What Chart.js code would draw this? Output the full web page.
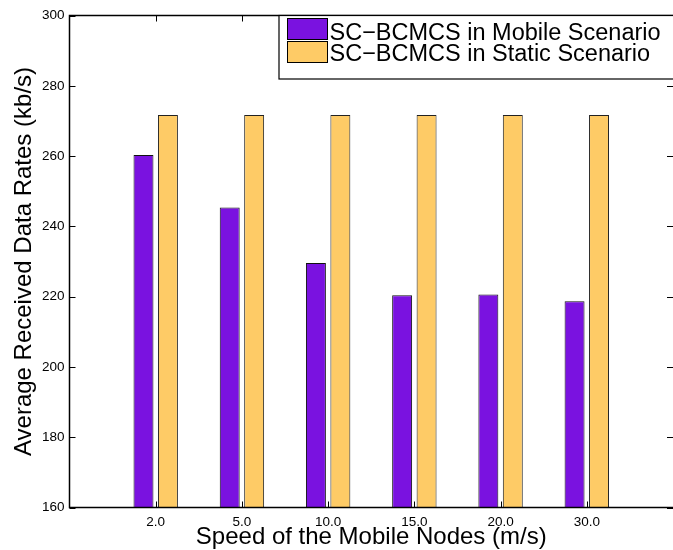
<!DOCTYPE html>
<html>
<head>
<meta charset="utf-8">
<script src="https://cdn.jsdelivr.net/npm/chart.js@4/dist/chart.umd.min.js"></script>
<style>
  html, body { margin: 0; padding: 0; background: #fff; overflow: hidden; }
  #wrap { width: 680px; height: 550px; }
</style>
</head>
<body>
<div id="wrap"><canvas id="c" width="680" height="550"></canvas></div>
<script>
// Node speeds (m/s) on the x axis
const speeds = ['2.0', '5.0', '10.0', '15.0', '20.0', '30.0'];
// Average received data rates (kb/s)
const mobileRates = [260.3, 245.4, 229.6, 220.4, 220.6, 218.7];
const staticRates = [271.7, 271.7, 271.7, 271.7, 271.7, 271.7];
// Y axis tick values
const yTicks = [160, 180, 200, 220, 240, 260, 280, 300];

const seriesNames = ['SC\u2212BCMCS in Mobile Scenario', 'SC\u2212BCMCS in Static Scenario'];
const purple = '#7a12e0';
const orange = '#fecb66';
const FONT = '"Liberation Sans", Arial, Helvetica, sans-serif';

// empty slots on both ends give the axis its half-open margins
const labels = [''].concat(speeds, ['']);
const pad = arr => [null].concat(arr, [null]);

// axes frame, inward ticks on all four sides, and the boxed legend
const framePlugin = {
  id: 'frame',
  afterDraw(chart) {
    const { ctx, chartArea: a, scales } = chart;
    const x = scales.x, y = scales.y;
    const tl = 6;
    ctx.save();
    ctx.strokeStyle = '#000';
    ctx.lineWidth = 1.5;
    ctx.beginPath();
    ctx.moveTo(a.right + 2, a.top);
    ctx.lineTo(a.left, a.top);
    ctx.lineTo(a.left, a.bottom);
    ctx.lineTo(a.right + 2, a.bottom);
    ctx.stroke();

    ctx.lineWidth = 1;
    ctx.beginPath();
    yTicks.forEach(v => {
      const py = Math.round(y.getPixelForValue(v)) + 0.5;
      ctx.moveTo(a.left, py); ctx.lineTo(a.left + tl, py);
      ctx.moveTo(a.right, py); ctx.lineTo(a.right - tl, py);
    });
    speeds.forEach((s, i) => {
      const px = Math.round(x.getPixelForValue(i + 1)) + 0.5;
      ctx.moveTo(px, a.top); ctx.lineTo(px, a.top + tl);
      ctx.moveTo(px, a.bottom); ctx.lineTo(px, a.bottom - tl);
    });
    ctx.stroke();

    // legend
    const lx = 279, ly = a.top, lw = 420, lh = 63.5;
    ctx.fillStyle = '#fff';
    ctx.fillRect(lx, ly, lw, lh);
    ctx.lineWidth = 1.2;
    ctx.strokeStyle = '#000';
    ctx.strokeRect(lx, ly, lw, lh);
    const rows = [
      { color: purple, top: 18.5, base: 39.5 },
      { color: orange, top: 41.5, base: 61 }
    ];
    ctx.font = '23.5px ' + FONT;
    ctx.textBaseline = 'alphabetic';
    ctx.textAlign = 'left';
    chart.data.datasets.forEach((ds, i) => {
      const r = rows[i];
      ctx.fillStyle = r.color;
      ctx.fillRect(287.5, r.top, 40, 21);
      ctx.lineWidth = 1;
      ctx.strokeStyle = '#000';
      ctx.strokeRect(287.5, r.top, 40, 21);
      ctx.fillStyle = '#000';
      ctx.fillText(ds.label, 329.5, r.base);
    });
    ctx.restore();
  }
};

new Chart(document.getElementById('c'), {
  type: 'bar',
  data: {
    labels: labels,
    datasets: [
      { label: seriesNames[0], data: pad(mobileRates), backgroundColor: purple,
        borderColor: '#111', borderWidth: 1, borderSkipped: false },
      { label: seriesNames[1], data: pad(staticRates), backgroundColor: orange,
        borderColor: '#222', borderWidth: 1, borderSkipped: false }
    ]
  },
  options: {
    responsive: false,
    animation: false,
    devicePixelRatio: 1,
    layout: { padding: { left: 0, top: 15.5, right: 5.5, bottom: 0 } },
    datasets: { bar: { categoryPercentage: 0.567, barPercentage: 0.816 } },
    plugins: {
      legend: { display: false },
      tooltip: { enabled: false }
    },
    scales: {
      x: {
        type: 'category',
        offset: false,
        grid: { display: false, drawTicks: false },
        border: { display: false },
        ticks: {
          color: '#000', font: { family: FONT, size: 13.5 }, padding: 7,
          maxRotation: 0, autoSkip: false
        },
        title: {
          display: true, text: 'Speed of the Mobile Nodes (m/s)', color: '#000',
          font: { family: FONT, size: 24, lineHeight: 1 }, padding: { top: 0, bottom: 1 }
        },
        afterFit(s) { s.height = 42.5; }
      },
      y: {
        min: 160, max: 300,
        grid: { display: false, drawTicks: false },
        border: { display: false },
        afterBuildTicks(s) { s.ticks = yTicks.map(v => ({ value: v })); },
        ticks: { color: '#000', font: { family: FONT, size: 13.5 }, padding: 5 },
        title: {
          display: true, text: 'Average Received Data Rates (kb/s)', color: '#000',
          font: { family: FONT, size: 24, lineHeight: 1 }, padding: { top: 12, bottom: 0 }
        },
        afterFit(s) { s.width = 69.5; }
      }
    }
  },
  plugins: [framePlugin]
});
</script>
</body>
</html>
